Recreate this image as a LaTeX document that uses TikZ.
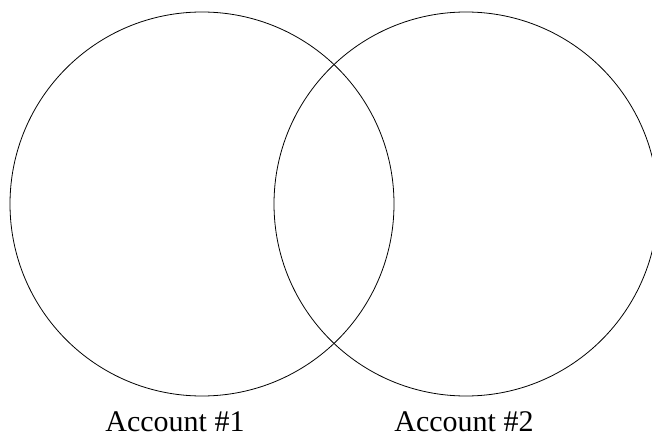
\documentclass[tikz,border=0pt]{standalone}
\usepackage{fontspec}
\setmainfont{Liberation Serif}
\usetikzlibrary{positioning}
\tikzset{
  setcircle/.style={draw, line width=0.8pt},
  setlabel/.style={font=\fontsize{30}{36}\selectfont, anchor=base, inner sep=0pt},
}

\begin{document}
\begin{tikzpicture}[x=1pt, y=-1pt]
  \useasboundingbox (0,0) rectangle (652,438);
  % two accounts, overlapping
  \draw[setcircle] (202,204) circle[radius=192];
  \draw[setcircle] (466,204) circle[radius=192];
  % labels under the circles
  \node[setlabel] (acc1) at (175,431) {Account \#1};
  \node[setlabel] (acc2) at (464,431) {Account \#2};
\end{tikzpicture}
\end{document}
